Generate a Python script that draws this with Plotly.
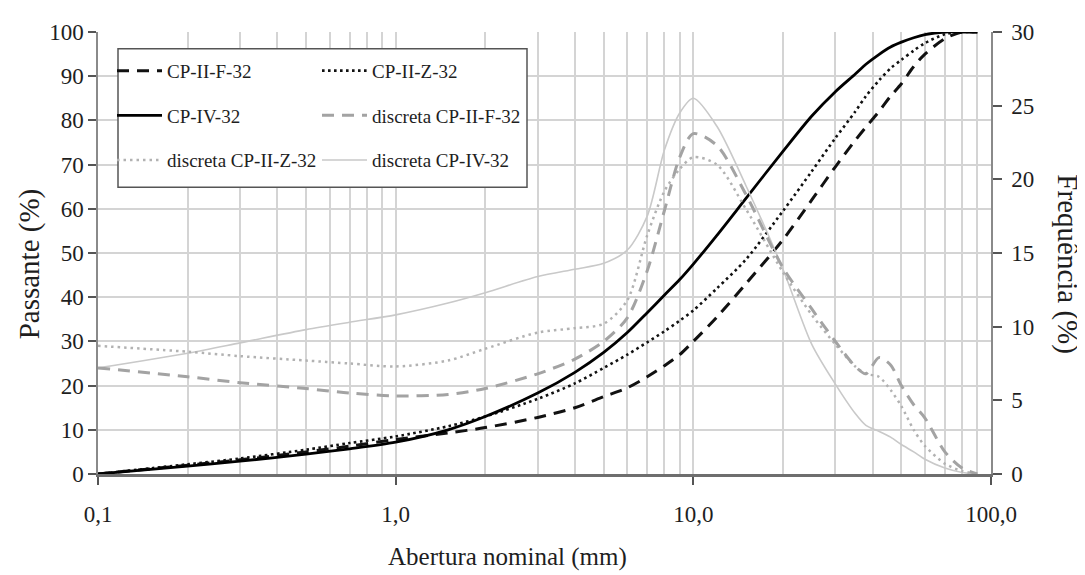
import plotly.graph_objects as go

# Shared sieve openings (mm)
abertura = [0.1, 0.2, 0.3, 0.5, 0.7, 1, 1.5, 2, 3, 4, 5, 6, 7, 8, 9, 10, 12, 15,
            20, 25, 30, 35, 38, 42, 46, 50, 55, 60, 70, 80, 90]

# Cumulative passing (%) - left axis
cp_ii_f = [0, 2.0, 3.2, 5.0, 6.3, 7.8, 9.3, 10.5, 12.8, 15.0, 17.5, 19.5, 22.0, 24.5, 27.0,
           30.0, 35.5, 43.0, 53.0, 62.0, 69.5, 75.5, 78.5, 82.0, 85.5, 88.3, 92.2, 95.0, 98.5, 100, 100]
cp_ii_z = [0, 2.2, 3.5, 5.5, 7.0, 8.5, 10.8, 13.0, 17.0, 20.5, 24.0, 27.0, 29.8, 32.3, 34.7,
           37.0, 42.0, 48.5, 59.5, 68.5, 76.0, 82.0, 85.5, 89.0, 91.8, 93.7, 95.8, 97.5, 99.5, 100, 100]
cp_iv = [0, 1.8, 2.9, 4.5, 5.7, 7.2, 10.0, 13.0, 18.3, 23.0, 27.5, 32.0, 36.5, 40.5, 44.0,
         47.5, 54.0, 62.3, 73.0, 81.0, 86.5, 90.5, 92.7, 94.9, 96.6, 97.7, 98.7, 99.4, 100, 100, 100]

# Discrete frequency (%) - right axis
disc_ii_f = [7.2, 6.6, 6.2, 5.8, 5.5, 5.3, 5.4, 5.8, 6.8, 7.8, 9.0, 10.6, 13.8, 17.9, 21.5,
             23.1, 22.3, 19.0, 14.0, 11.2, 9.0, 7.3, 6.8, 7.9, 7.4, 6.0, 4.7, 3.8, 1.5, 0.4, 0]
disc_ii_z = [8.7, 8.3, 8.0, 7.7, 7.5, 7.3, 7.7, 8.5, 9.6, 9.9, 10.2, 11.8, 16.2, 19.2, 20.7,
             21.5, 21.0, 18.0, 13.7, 10.8, 8.8, 7.3, 6.8, 6.6, 5.7, 4.6, 3.0, 1.9, 0.7, 0.2, 0]
disc_iv = [7.2, 8.2, 8.9, 9.8, 10.3, 10.8, 11.6, 12.3, 13.4, 13.9, 14.3, 15.2, 17.5, 22.0, 24.5,
           25.5, 23.6, 19.6, 13.9, 8.8, 6.1, 4.1, 3.3, 2.9, 2.5, 2.0, 1.5, 1.0, 0.4, 0.1, 0]

x_tickvals = [0.1, 1, 10, 100]
x_ticktext = ["0,1", "1,0", "10,0", "100,0"]
minor_vals = [m * 10 ** e for e in (-1, 0, 1) for m in range(1, 10)] + [100]

FONT = "Liberation Serif, Times New Roman, DejaVu Serif, serif"
TXT = "#1e1e1e"

fig = go.Figure()

def add(name, x, y, color, width, dash, axis, legend, rank):
    fig.add_trace(go.Scatter(
        x=x, y=y, name=name, mode="lines",
        line=dict(color=color, width=width, dash=dash, shape="spline", smoothing=0.8),
        yaxis=axis, legend=legend, legendrank=rank, legendgroup=name,
    ))

# discrete (behind)
add("discreta CP-IV-32", abertura, disc_iv, "#c9c9c9", 1.6, "solid", "y2", "legend2", 3)
add("discreta CP-II-Z-32", abertura, disc_ii_z, "#b2b2b2", 2.5, "2.5px,4px", "y2", "legend", 3)
add("discreta CP-II-F-32", abertura, disc_ii_f, "#a3a3a3", 3, "12px,8px", "y2", "legend2", 2)
# cumulative
add("CP-II-F-32", abertura, cp_ii_f, "#111111", 3, "12px,8px", "y", "legend", 1)
add("CP-II-Z-32", abertura, cp_ii_z, "#111111", 2.6, "2.6px,3.4px", "y", "legend2", 1)
add("CP-IV-32", abertura, cp_iv, "#000000", 2.8, "solid", "y", "legend", 2)

# page body has an 8px margin: build the figure in screen coords shifted by 8px
OFF = 8
W, H = 1085 - OFF, 575 - OFF
L, R, T, B = 98 - OFF, 94, 27 - OFF, 575 - 474
pw, ph = W - L - R, H - T - B

def px_x(p):
    return (p - OFF - L) / pw

def px_y(p):
    return (H - B - (p - OFF)) / ph

leg_common = dict(
    bgcolor="rgba(0,0,0,0)", borderwidth=0, orientation="v",
    font=dict(family=FONT, size=19, color=TXT),
    traceorder="grouped", tracegroupgap=17, itemwidth=45,
    xanchor="left", yanchor="top",
)

fig.update_layout(
    width=W, height=H,
    margin=dict(l=L, r=R, t=T, b=B),
    paper_bgcolor="white", plot_bgcolor="white",
    font=dict(family=FONT, color=TXT),
    showlegend=True,
    legend=dict(x=px_x(112), y=px_y(47), **leg_common),
    legend2=dict(x=px_x(317), y=px_y(47), **leg_common),
    xaxis=dict(
        type="log", range=[-1, 2],
        tickvals=x_tickvals, ticktext=x_ticktext,
        ticks="outside", ticklen=8, tickwidth=1.5, tickcolor="#555555",
        tickfont=dict(family=FONT, size=23, color=TXT),
        ticklabelstandoff=10,
        showgrid=False,
        minor=dict(tickvals=minor_vals, showgrid=True, gridcolor="#d4d4d4", gridwidth=1.5, ticks=""),
        showline=True, linecolor="#6e6e6e", linewidth=2.5,
        zeroline=False,
    ),
    yaxis=dict(
        range=[0, 100], dtick=10,
        ticks="outside", ticklen=8, tickwidth=1.5, tickcolor="#555555",
        tickfont=dict(family=FONT, size=23, color=TXT),
        showgrid=True, gridcolor="#d4d4d4", gridwidth=1.5,
        showline=True, linecolor="#8a8a8a", linewidth=1.5,
        zeroline=False,
    ),
    yaxis2=dict(
        range=[0, 30], dtick=5, overlaying="y", side="right",
        ticks="outside", ticklen=9, tickwidth=1.5, tickcolor="#555555",
        tickfont=dict(family=FONT, size=23, color=TXT),
        ticklabelstandoff=5,
        showgrid=False, showline=True, linecolor="#8a8a8a", linewidth=1.5,
        zeroline=False,
    ),
    shapes=[dict(
        type="rect", xref="paper", yref="paper",
        x0=px_x(118), x1=px_x(527), y0=px_y(184), y1=px_y(44),
        line=dict(color="#555555", width=1.5), fillcolor="white", layer="above",
    )],
    annotations=[
        dict(text="Abertura nominal (mm)", xref="paper", yref="paper",
             x=px_x(507), y=px_y(558), showarrow=False,
             xanchor="center", yanchor="middle",
             font=dict(family=FONT, size=25, color=TXT)),
        dict(text="Passante (%)", xref="paper", yref="paper",
             x=px_x(29), y=px_y(262), showarrow=False, textangle=-90,
             xanchor="center", yanchor="middle",
             font=dict(family=FONT, size=29, color=TXT)),
        dict(text="Frequência (%)", xref="paper", yref="paper",
             x=px_x(1068), y=px_y(262), showarrow=False, textangle=90,
             xanchor="center", yanchor="middle",
             font=dict(family=FONT, size=29, color=TXT)),
    ],
)

fig.write_html("out.html")
